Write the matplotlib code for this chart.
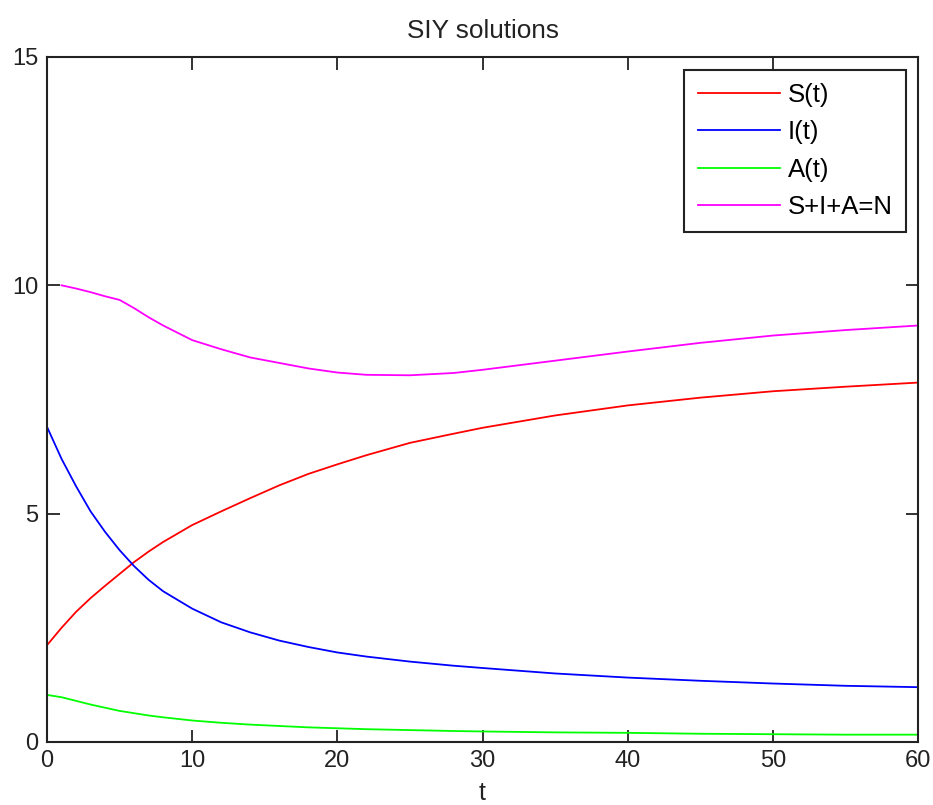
import matplotlib
matplotlib.use("Agg")
import matplotlib.pyplot as plt

# valores
t = [0, 1, 2, 3, 4, 5, 6, 7, 8, 10, 12, 14, 16, 18, 20, 22, 25, 28, 30, 35, 40, 45, 50, 55, 60]
S = [2.12, 2.5, 2.85, 3.15, 3.42, 3.68, 3.94, 4.17, 4.38, 4.75, 5.05, 5.34, 5.62, 5.87, 6.08, 6.28,
     6.55, 6.75, 6.88, 7.15, 7.37, 7.54, 7.68, 7.78, 7.87]
I = [6.9, 6.2, 5.6, 5.05, 4.6, 4.2, 3.85, 3.55, 3.3, 2.92, 2.62, 2.4, 2.22, 2.08, 1.96, 1.87,
     1.76, 1.67, 1.62, 1.5, 1.41, 1.34, 1.28, 1.23, 1.2]
A = [1.03, 0.98, 0.9, 0.82, 0.75, 0.68, 0.63, 0.58, 0.54, 0.47, 0.42, 0.38, 0.35, 0.32, 0.3, 0.28,
     0.26, 0.24, 0.23, 0.21, 0.2, 0.18, 0.17, 0.16, 0.16]
# la suma empieza en t=1
tN = [1, 2, 3, 4, 5, 6, 7, 8, 10, 12, 14, 16, 18, 20, 22, 25, 28, 30, 35, 40, 45, 50, 55, 60]
N = [10.0, 9.93, 9.85, 9.76, 9.68, 9.5, 9.3, 9.12, 8.8, 8.6, 8.42, 8.3, 8.18, 8.09, 8.04, 8.03,
     8.08, 8.15, 8.35, 8.55, 8.74, 8.9, 9.02, 9.12]

etiquetas = ['S(t)', 'I(t)', 'A(t)', 'S+I+A=N']

plt.rcParams['font.family'] = ['Liberation Sans', 'DejaVu Sans']
plt.rcParams['font.size'] = 18.5

fig = plt.figure(figsize=(9.33, 8.05), dpi=100)
ax = fig.add_axes([0.0504, 0.0783, 0.9336, 0.8509])

ax.plot(t, S, color=(1, 0, 0), lw=1.3, label=etiquetas[0])
ax.plot(t, I, color=(0, 0, 1), lw=1.3, label=etiquetas[1])
ax.plot(t, A, color=(0, 1, 0), lw=1.3, label=etiquetas[2])
ax.plot(tN, N, color=(1, 0, 1), lw=1.3, label=etiquetas[3])

ax.set_xlim(0, 60)
ax.set_ylim(0, 15)
ax.set_xticks(range(0, 61, 10))
ax.set_yticks([0, 5, 10, 15])
ax.tick_params(direction='in', length=9, width=1.3, top=True, right=True, pad=6,
               colors='#222222', labelsize=17)
for s in ax.spines.values():
    s.set_linewidth(1.5)
    s.set_color('#222222')

ax.set_title('SIY solutions', pad=14, color='#222222', fontsize=18.8)
ax.set_xlabel('t', labelpad=6, color='#222222', fontsize=18)

leg = ax.legend(loc='upper right', bbox_to_anchor=(0.9862, 0.981), borderaxespad=0,
                fancybox=False, edgecolor='#222222', framealpha=1,
                handlelength=3.2, handletextpad=0.3, labelspacing=0.51, borderpad=0.52)
leg.get_frame().set_linewidth(1.5)

fig.savefig('out.png', dpi=100)
